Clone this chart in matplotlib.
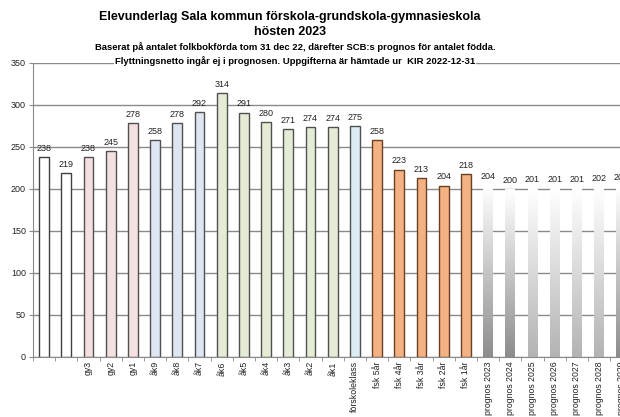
import matplotlib
matplotlib.use("Agg")
import matplotlib.pyplot as plt
import numpy as np

plt.rcParams['font.family'] = ['Liberation Sans', 'DejaVu Sans']

categories = ["", "", "gy3", "gy2", "gy1", "åk9", "åk8", "åk7", "åk6", "åk5", "åk4",
              "åk3", "åk2", "åk1", "förskoleklass", "fsk 5år", "fsk 4år", "fsk 3år",
              "fsk 2år", "fsk 1år", "prognos 2023", "prognos 2024", "prognos 2025",
              "prognos 2026", "prognos 2027", "prognos 2028", "prognos 2029"]
values = [238, 219, 238, 245, 278, 258, 278, 292, 314, 291, 280,
          271, 274, 274, 275, 258, 223, 213,
          204, 218, 204, 200, 201,
          201, 201, 202, 203]
groups = ["old", "old", "gy", "gy", "gy", "hog", "hog", "hog", "mel", "mel", "mel",
          "mel", "mel", "mel", "fk", "fsk", "fsk", "fsk",
          "fsk", "fsk", "progA", "progA", "progB",
          "progB", "progB", "progB", "progA"]

face = {"old": "white", "gy": "#f4e0e0", "hog": "#dde6f2", "mel": "#e4ecd6",
        "fk": "#dcecf4", "fsk": "#f4b183"}
edge = {"old": "#404040", "gy": "#505050", "hog": "#505050", "mel": "#505050",
        "fk": "#505050", "fsk": "#6a4020"}
grad_bottom = {"progA": 0.55, "progB": 0.70}

fig = plt.figure(figsize=(6.2, 4.17), dpi=100)
W, H = 620, 417
left_px, bottom_px, top_px = 33, 357, 63
cat_w = 22.2
ncat_axes = 28
ax = fig.add_axes([left_px / W, (H - bottom_px) / H, ncat_axes * cat_w / W,
                   (bottom_px - top_px) / H])

x = np.arange(len(categories))
ax.set_xlim(-0.5, ncat_axes - 0.5)
ax.set_ylim(0, 350)
ax.set_yticks(np.arange(0, 351, 50))
ax.yaxis.grid(True, color="#8a8a8a", linewidth=1.0)
ax.set_axisbelow(True)

bw = 0.45
for i, (v, g) in enumerate(zip(values, groups)):
    if g.startswith("prog"):
        bars = ax.bar(x[i], v, width=bw, facecolor="none", edgecolor="none", zorder=2)
        patch = bars.patches[0]
        bot = grad_bottom[g]
        grad = np.linspace(1.0, bot, 256).reshape(-1, 1)
        grad = np.concatenate([grad ** 1.6 * 0 + grad], axis=1)
        im = ax.imshow(grad, cmap="gray", vmin=0, vmax=1, aspect="auto",
                       extent=(x[i] - bw / 2, x[i] + bw / 2, 0, v), zorder=2,
                       interpolation="bilinear")
        im.set_clip_path(patch)
    else:
        ax.bar(x[i], v, width=bw, facecolor=face[g], edgecolor=edge[g],
               linewidth=1.0, zorder=2)
    ax.text(x[i], v + 5, str(v), ha="center", va="bottom", fontsize=6.5,
            color="#222222", zorder=3)

ax.set_xticks(x)
ax.set_xticklabels(categories, rotation=90, fontsize=6.3, color="#222222")
ax.set_xticks(np.arange(-0.5, ncat_axes, 1), minor=True)
ax.tick_params(axis="x", which="major", length=0, pad=3)
ax.tick_params(axis="x", which="minor", length=3, color="#8a8a8a")
ax.tick_params(axis="y", length=3, color="#8a8a8a", labelsize=6.5,
               labelcolor="#222222", pad=2)
ax.set_xlim(-0.5, ncat_axes - 0.5)
for s in ["top", "right"]:
    ax.spines[s].set_visible(False)
for s in ["left", "bottom"]:
    ax.spines[s].set_color("#8a8a8a")

cx = 290 / W
fig.text(cx, 1 - 17 / H, "Elevunderlag Sala kommun förskola-grundskola-gymnasieskola",
         ha="center", va="center", fontsize=9, fontweight="bold")
fig.text(cx, 1 - 32 / H, "hösten 2023", ha="center", va="center", fontsize=9,
         fontweight="bold")
fig.text(cx + 5 / W, 1 - 47 / H,
         "Baserat på antalet folkbokförda tom 31 dec 22, därefter SCB:s prognos för antalet födda.",
         ha="center", va="center", fontsize=6.8, fontweight="bold")
fig.text(cx + 5 / W, 1 - 61 / H,
         "Flyttningsnetto ingår ej i prognosen. Uppgifterna är hämtade ur  KIR 2022-12-31",
         ha="center", va="center", fontsize=6.8, fontweight="bold",
         bbox=dict(facecolor="white", edgecolor="none", pad=0.5), zorder=5)

fig.savefig("out.png", dpi=100)
